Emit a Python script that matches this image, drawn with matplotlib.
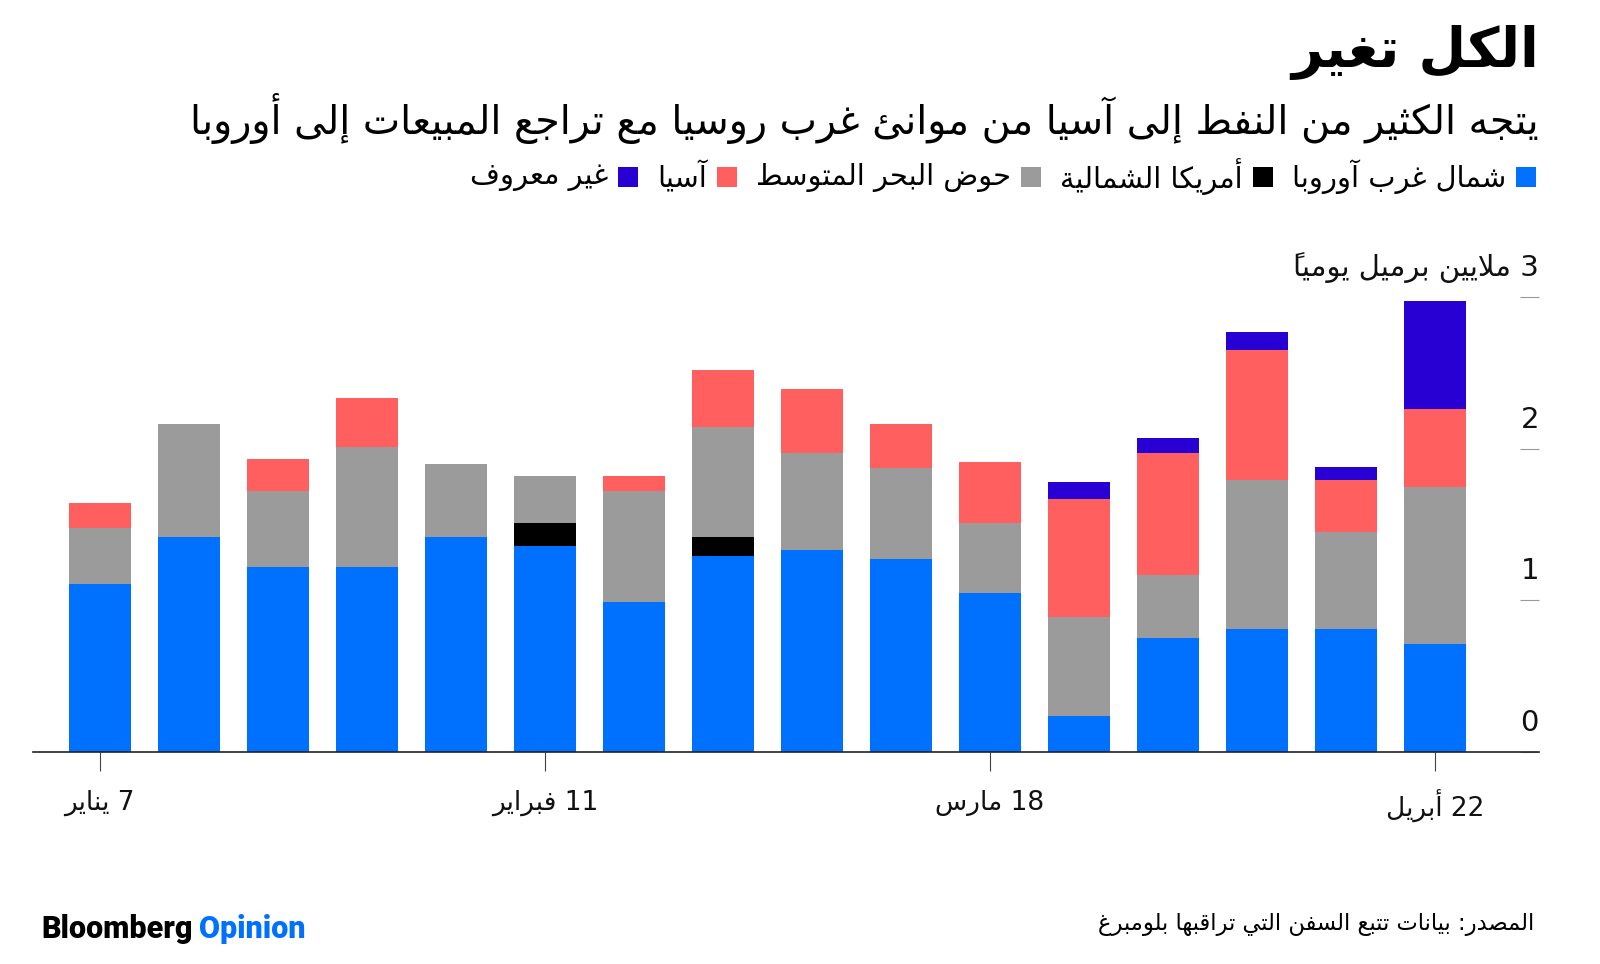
import numpy as np
import matplotlib
matplotlib.use("Agg")
import matplotlib.pyplot as plt
from matplotlib.patches import Rectangle
from matplotlib.transforms import blended_transform_factory, ScaledTranslation

# --- data (million barrels a day, weekly) ---
nw_europe = [1.11, 1.42, 1.22, 1.22, 1.42, 1.36, 0.99, 1.29, 1.33, 1.27, 1.05, 0.24, 0.75, 0.81, 0.81, 0.71]
n_america = [0, 0, 0, 0, 0, 0.15, 0, 0.13, 0, 0, 0, 0, 0, 0, 0, 0]
mediterranean = [0.37, 0.74, 0.50, 0.79, 0.48, 0.31, 0.73, 0.72, 0.64, 0.60, 0.46, 0.65, 0.42, 0.98, 0.64, 1.04]
asia = [0.16, 0, 0.21, 0.32, 0, 0, 0.10, 0.38, 0.42, 0.29, 0.40, 0.78, 0.80, 0.86, 0.34, 0.51]
unknown = [0, 0, 0, 0, 0, 0, 0, 0, 0, 0, 0, 0.11, 0.10, 0.12, 0.09, 0.71]

series_names = ['شمال غرب آوروبا', 'أمريكا الشمالية', 'حوض البحر المتوسط', 'آسيا', 'غير معروف']
series_colors = ['#0070FF', '#000000', '#9B9B9B', '#FF5F5F', '#2800D4']

tick_idx = [0, 5, 10, 15]
tick_labels = ['7 يناير', '11 فبراير', '18 مارس', '22 أبريل']
y_ticks = [0, 1, 2, 3]
y_unit = 'ملايين برميل يومياً'

title = 'الكل تغير'
subtitle = 'يتجه الكثير من النفط إلى آسيا من موانئ غرب روسيا مع تراجع المبيعات إلى أوروبا'
source = 'المصدر: بيانات تتبع السفن التي تراقبها بلومبرغ'


# --- minimal arabic shaping (matplotlib has no bidi / joining) ---
def build_forms():
    # presentation forms B are laid out in order: isolated, final, initial, medial
    letters = list(range(0x0621, 0x063B)) + list(range(0x0641, 0x064B))
    counts = [1, 2, 2, 2, 2, 4, 2, 4, 2, 4, 4, 4, 4, 4, 2, 2, 2, 2, 4, 4, 4, 4, 4, 4, 4, 4,
              4, 4, 4, 4, 4, 4, 4, 2, 2, 4]
    forms = {}
    pos = 0xFE80
    for cp, n in zip(letters, counts):
        forms[chr(cp)] = (pos, n)
        pos += n
    return forms


FORMS = build_forms()
LAM_ALEF = {'\u0622': 0xFEF5, '\u0623': 0xFEF7, '\u0625': 0xFEF9, '\u0627': 0xFEFB}


def is_mark(c):
    return '\u064B' <= c <= '\u065F' or c == '\u0670'


def ar(text):
    clusters = []
    for c in text:
        if is_mark(c) and clusters:
            clusters[-1][1] += c
        else:
            clusters.append([c, ''])
    out = []
    prev_joins = False
    i = 0
    n = len(clusters)
    while i < n:
        c, marks = clusters[i]
        if c not in FORMS:
            out.append(marks + c)
            prev_joins = False
            i += 1
            continue
        base, cnt = FORMS[c]
        nxt = clusters[i + 1][0] if i + 1 < n else ''
        if c == '\u0644' and nxt in LAM_ALEF:
            lig = LAM_ALEF[nxt] + (1 if prev_joins else 0)
            out.append(marks + clusters[i + 1][1] + chr(lig))
            prev_joins = False
            i += 2
            continue
        conn_prev = prev_joins and cnt >= 2
        conn_next = cnt == 4 and nxt in FORMS and FORMS[nxt][1] >= 2
        if cnt == 1:
            form = 0
        elif conn_prev and conn_next:
            form = 3
        elif conn_prev:
            form = 1
        elif conn_next:
            form = 2
        else:
            form = 0
        # mark goes before its letter in visual order so it lands on top of it
        out.append(marks + chr(base + form))
        prev_joins = conn_next
        i += 1
    # right-to-left: reverse, but keep digit runs in reading order
    segs = []
    for s in out:
        if s[0].isdigit() and segs and segs[-1][0].isdigit():
            segs[-1] += s
        else:
            segs.append(s)
    return ''.join(reversed(segs))


plt.rcParams['font.family'] = ['DejaVu Sans']

W, H = 1600, 964
fig = plt.figure(figsize=(W / 100, H / 100), dpi=100)


def fx(x):
    return x / W


def fy(y):
    return 1 - y / H


# axes placed in pixel terms of the reference
y0_px, y3_px = 752.3, 296.7
ax = fig.add_axes([fx(33), fy(y0_px), (1539 - 33) / W, (y0_px - y3_px) / H])

x = np.arange(len(nw_europe))
bottom = np.zeros(len(x))
for vals, col in zip([nw_europe, n_america, mediterranean, asia, unknown], series_colors):
    vals = np.array(vals)
    ax.bar(x, vals, 0.7, bottom=bottom, color=col, linewidth=0)
    bottom += vals

ax.set_xlim(-0.75, 16.17)
ax.set_ylim(0, 3)
for s in ['top', 'left', 'right']:
    ax.spines[s].set_visible(False)
ax.spines['bottom'].set_color('#222222')
ax.spines['bottom'].set_linewidth(1.2)

ax.set_xticks(tick_idx)
ax.set_xticklabels([ar(t) for t in tick_labels], fontsize=19, color='#111111')
ax.tick_params(axis='x', direction='out', length=14, width=0.8, color='#444444', pad=13)

ax.yaxis.tick_right()
ax.set_yticks(y_ticks)
ax.tick_params(axis='y', direction='in', length=13.5, width=0.8, color='#999999',
               labelright=False, labelleft=False)

trans = blended_transform_factory(ax.transAxes, ax.transData) + \
    ScaledTranslation(0, 0.29, fig.dpi_scale_trans)
for v in y_ticks:
    lab = str(v) if v < 3 else ar(str(v) + ' ' + y_unit)
    ax.text(1.0, v, lab, transform=trans, ha='right', va='center', fontsize=21, color='#111111')

# titles
fig.text(fx(1539), fy(53), ar(title), ha='right', va='center', fontsize=39.5,
         fontweight='bold', color='black')
fig.text(fx(1539), fy(119), ar(subtitle), ha='right', va='center', fontsize=28.5, color='black')

# legend, laid out right to left
renderer = fig.canvas.get_renderer()
right = 1536
ly = 177
sq = 20
for name, col in zip(series_names, series_colors):
    fig.add_artist(Rectangle((fx(right - sq), fy(ly + sq / 2)), sq / W, sq / H,
                             transform=fig.transFigure, color=col, linewidth=0))
    t = fig.text(fx(right - sq - 10), fy(ly), ar(name), ha='right', va='center',
                 fontsize=20.8, color='black')
    bb = t.get_window_extent(renderer)
    right = bb.x0 - 19

# footer
b = fig.text(fx(41), fy(929), 'Bloomberg', ha='left', va='center', fontsize=22,
             fontweight='black', family='Roboto', color='black')
bb = b.get_window_extent(renderer)
fig.text(fx(bb.x1 + 7), fy(929), 'Opinion', ha='left', va='center', fontsize=22,
         fontweight='black', family='Roboto', color='#0070FF')
fig.text(fx(1534), fy(925), ar(source), ha='right', va='center', fontsize=16.3, color='black')

fig.savefig('out.png', dpi=100)
